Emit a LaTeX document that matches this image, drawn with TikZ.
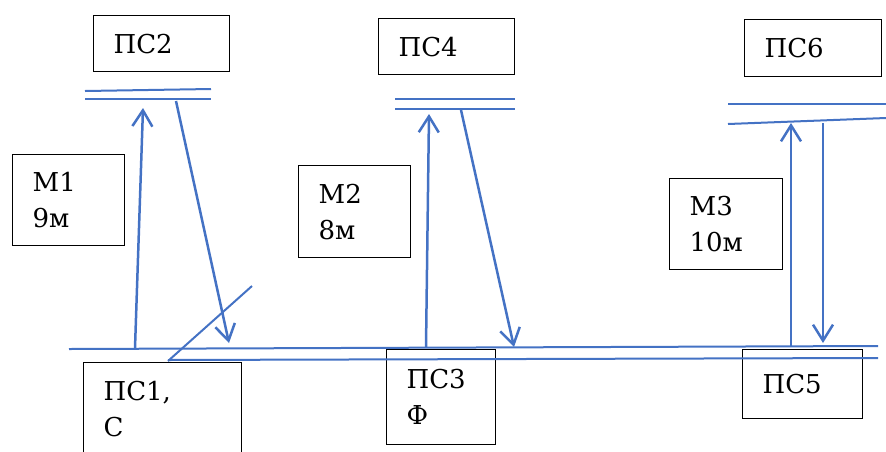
\documentclass[tikz,border=0pt]{standalone}
\usepackage{fontspec}
\setmainfont{DejaVu Serif}
\usepackage{tikz}
\usetikzlibrary{arrows.meta}
\definecolor{busblue}{RGB}{68,114,196}

\begin{document}
\begin{tikzpicture}[x=1pt,y=-1pt,>={Straight Barb[length=16pt,width=20pt]},
	box/.style={draw, line width=1.3pt, anchor=north west, inner xsep=20pt, inner ysep=0pt, align=left, font=\fontsize{26}{36}\selectfont},
	bus/.style={busblue, line width=2pt},
	feed/.style={busblue, line width=2.5pt, ->}]
	\clip (0,0) rectangle (886,451);
	%\draw [help lines] (0,0) grid (886,451);
	% substations and lines
	\node [box, text width=96pt, minimum height=56pt] (ps2) at (93,15) {ПС2};
	\node [box, text width=96pt, minimum height=56pt] (ps4) at (378,18) {ПС4};
	\node [box, text width=97pt, minimum height=57pt] (ps6) at (744,19) {ПС6};
	\node [box, text width=72pt, minimum height=91pt] (m1) at (12,154) {М1\\9м};
	\node [box, text width=72pt, minimum height=92pt] (m2) at (298,165) {М2\\8м};
	\node [box, text width=73pt, minimum height=91pt] (m3) at (669,178) {М3\\10м};
	\node [box, text width=118pt, minimum height=92pt] (ps1) at (83,362) {ПС1,\\С};
	\node [box, text width=69pt, minimum height=95pt] (ps3) at (386,349) {ПС3\\Ф};
	\node [box, text width=80pt, minimum height=69pt] (ps5) at (742,349) {ПС5};
	% buses
	\draw [bus] (85,91) -- (211,89);
	\draw [bus] (85,99) -- (211,99);
	\draw [bus] (395,99) -- (515,99);
	\draw [bus] (395,109) -- (515,109);
	\draw [bus] (728,104) -- (886,104);
	\draw [bus] (728,124) -- (886,118);
	\draw [bus] (69,349) -- (878,346);
	\draw [bus] (168,360) -- (878,358);
	\draw [bus] (168,361) -- (252,286);
	% feeder ends
	\coordinate (a1) at (135,348);
	\coordinate (b1) at (143,108);
	\coordinate (c1) at (176,101);
	\coordinate (d1) at (229,343);
	\coordinate (a2) at (426,347);
	\coordinate (b2) at (429,114);
	\coordinate (c2) at (461,110);
	\coordinate (d2) at (514,347);
	\coordinate (a3) at (791,347);
	\coordinate (b3) at (791,123);
	\coordinate (c3) at (823,123);
	\coordinate (d3) at (823,343);
	\draw [feed] (a1) -- (b1);
	\draw [feed] (c1) -- (d1);
	\draw [feed] (a2) -- (b2);
	\draw [feed] (c2) -- (d2);
	\draw [feed] (a3) -- (b3);
	\draw [feed] (c3) -- (d3);
\end{tikzpicture}
\end{document}
